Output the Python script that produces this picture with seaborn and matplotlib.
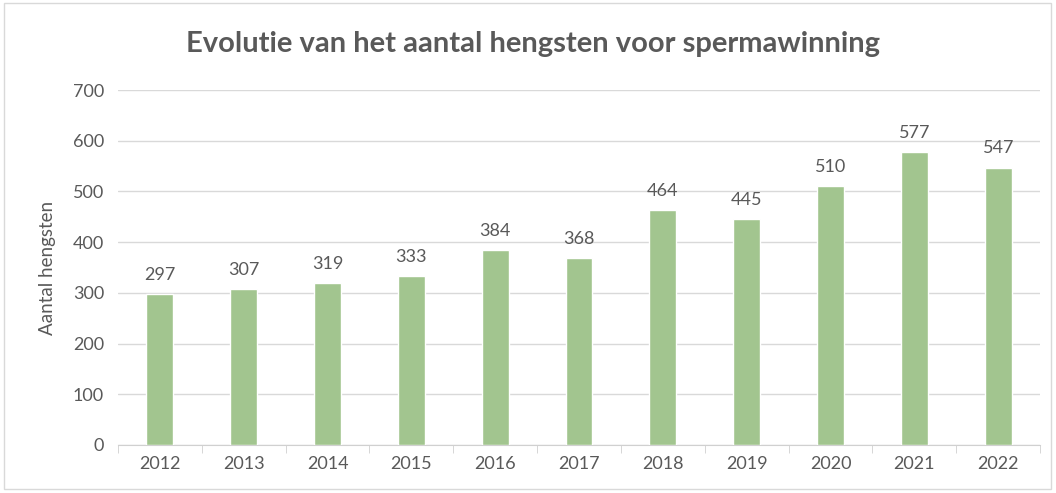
import pandas as pd
import seaborn as sns
import matplotlib.pyplot as plt
from matplotlib.patches import Rectangle

# data
years = ["2012", "2013", "2014", "2015", "2016", "2017", "2018", "2019", "2020", "2021", "2022"]
hengsten = [297, 307, 319, 333, 384, 368, 464, 445, 510, 577, 547]

df = pd.DataFrame({"jaar": years, "aantal": hengsten})

sns.set_style("white")
plt.rcParams["font.family"] = ["Lato", "DejaVu Sans"]
grey = "#595959"

fig = plt.figure(figsize=(10.56, 4.93), dpi=100)
ax = fig.add_axes([0.1117, 0.0974, 0.8733, 0.72])

sns.barplot(data=df, x="jaar", y="aantal", color="#a2c58f", width=0.32,
            saturation=1, ax=ax, zorder=3)

# labels above the bars
for i, v in enumerate(hengsten):
    ax.annotate(str(v), (i, v), xytext=(0, 8), textcoords="offset points",
                ha="center", va="bottom", fontsize=13, color=grey)

ax.set_ylim(0, 700)
ax.set_yticks(range(0, 701, 100))
ax.set_xlim(-0.5, len(years) - 0.5)
ax.yaxis.grid(True, color="#d9d9d9", linewidth=1, zorder=0)
ax.set_axisbelow(True)

for s in ["top", "right", "left"]:
    ax.spines[s].set_visible(False)
ax.spines["bottom"].set_color("#d0d0d0")

# tick marks between the categories, like excel
ax.set_xticks([i - 0.5 for i in range(len(years) + 1)], minor=True)
ax.tick_params(axis="x", which="minor", length=6, color="#d0d0d0", bottom=True)
ax.tick_params(axis="x", which="major", length=0, pad=8, labelsize=13, labelcolor=grey)
ax.tick_params(axis="y", length=0, pad=10, labelsize=13, labelcolor=grey)

ax.set_xlabel("")
ax.set_ylabel("Aantal hengsten", fontsize=13.5, color=grey, labelpad=12)

fig.text(0.505, 0.91, "Evolutie van het aantal hengsten voor spermawinning",
         ha="center", va="center", fontsize=21, fontweight="bold", color=grey)

fig.patches.append(Rectangle((0.004, 0.008), 0.991, 0.985, transform=fig.transFigure,
                             fill=False, edgecolor="#d9d9d9", linewidth=1))

plt.savefig("out.png", dpi=100)
